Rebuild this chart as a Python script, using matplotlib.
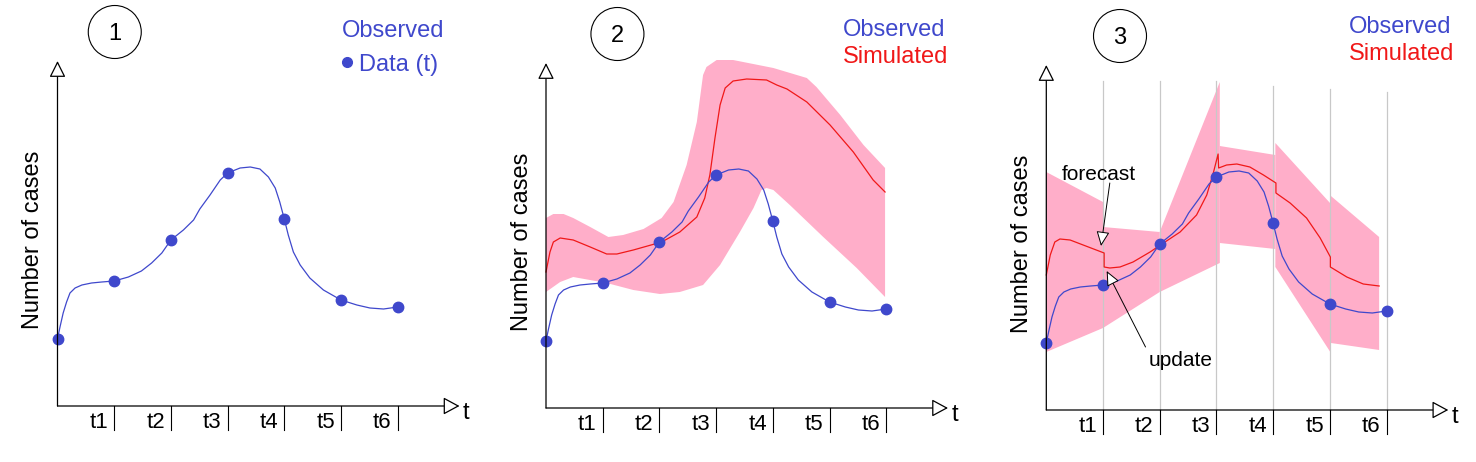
import numpy as np
import matplotlib
matplotlib.use('Agg')
import matplotlib.pyplot as plt
from matplotlib.patches import Ellipse

plt.rcParams['font.family'] = ['Liberation Sans', 'DejaVu Sans']

BLUE = '#3F48CC'
RED = '#F01818'
PINK = '#FFAEC9'
GREY = '#C8C8C8'

# observed data points at t0..t6 and the smooth observed curve
OBS_T = [0, 1, 2, 3, 4, 5, 6]
OBS_Y = [6.7, 12.5, 16.6, 23.3, 18.7, 10.6, 9.9]
CURVE_T = [0, 0.044, 0.10, 0.16, 0.22, 0.31, 0.43, 0.60, 0.78, 1.0, 1.25, 1.48, 1.66, 1.84,
           2.0, 2.22, 2.40, 2.51, 2.69, 2.87, 3.0, 3.22, 3.40, 3.57, 3.72, 3.84, 3.92, 4.0,
           4.07, 4.16, 4.28, 4.45, 4.69, 5.0, 5.28, 5.51, 5.75, 6.0]
CURVE_Y = [6.7, 7.9, 9.3, 10.4, 11.3, 11.8, 12.1, 12.3, 12.4, 12.5, 12.9, 13.5, 14.3, 15.3,
           16.6, 17.6, 18.6, 19.7, 21.1, 22.6, 23.3, 23.8, 23.9, 23.7, 22.9, 21.8, 20.4, 18.7,
           17.1, 15.4, 14.1, 12.8, 11.6, 10.6, 10.1, 9.8, 9.7, 9.9]

# panel 2: free simulation and its spread
SIM2_T = [0.0, 0.07, 0.13, 0.25, 0.48, 0.78, 1.07, 1.25, 1.54, 2.04, 2.36, 2.66, 2.80, 2.89,
          2.98, 3.07, 3.16, 3.30, 3.54, 3.89, 4.07, 4.25, 4.60, 5.01, 5.42, 5.77, 5.98]
SIM2_Y = [13.6, 15.6, 16.6, 17.0, 16.8, 16.1, 15.4, 15.4, 15.8, 16.6, 17.6, 19.1, 21.0, 23.3,
          27.0, 30.3, 32.0, 32.7, 32.9, 32.8, 32.3, 31.9, 30.6, 28.3, 25.6, 22.8, 21.6]
UP2_T = [0, 0.13, 0.31, 0.48, 0.78, 1.10, 1.36, 1.72, 2.04, 2.25, 2.48, 2.66, 2.77, 2.83,
         3.01, 3.30, 4.01, 4.60, 4.77, 5.19, 5.60, 5.98]
UP2_Y = [19.0, 19.4, 19.4, 19.0, 18.1, 17.1, 17.3, 17.9, 19.0, 20.6, 24.3, 28.6, 33.3, 34.1,
         34.8, 34.8, 34.0, 33.0, 32.1, 29.3, 26.3, 24.0]
LO2_T = [0, 0.25, 0.48, 1.07, 1.54, 2.01, 2.36, 2.77, 3.07, 3.42, 3.66, 3.80, 3.89, 4.01,
         4.30, 4.89, 5.48, 5.98]
LO2_Y = [11.6, 12.6, 13.1, 12.5, 11.8, 11.4, 11.6, 12.3, 14.3, 17.6, 20.0, 21.8, 22.0, 21.8,
         20.3, 17.1, 14.0, 11.1]

# panel 3: forecast / update cycles
SEG_T0 = [0, 1.0, 2.0, 3.06, 4.04, 5.02]
SEG_T1 = [1.0, 2.0, 3.06, 4.04, 5.02, 5.87]
SEG_UP0 = [23.8, 18.3, 17.8, 26.4, 26.7, 21.4]
SEG_UP1 = [20.8, 17.8, 32.8, 25.5, 20.6, 17.3]
SEG_LO0 = [5.8, 8.2, 11.8, 16.7, 14.3, 6.7]
SEG_LO1 = [8.2, 11.8, 14.7, 16.1, 5.7, 6.0]
SIM3_T = [0.0, 0.07, 0.15, 0.24, 0.42, 0.65, 1.02, 1.02, 1.12, 1.30, 1.53, 1.83, 2.04, 2.36,
          2.65, 2.83, 2.95, 3.03, 3.04, 3.18, 3.36, 3.59, 3.83, 4.05, 4.05, 4.30, 4.59, 4.83,
          5.01, 5.01, 5.30, 5.59, 5.87]
SIM3_Y = [13.5, 15.5, 16.8, 17.1, 17.0, 16.5, 15.7, 14.3, 14.2, 14.3, 14.8, 15.8, 16.6, 17.8,
          19.5, 21.5, 23.8, 25.6, 24.2, 24.5, 24.6, 24.3, 23.5, 22.7, 21.7, 20.7, 19.2, 17.2,
          15.3, 14.3, 13.3, 12.6, 12.4]
GRID_TOP = [32.9, 32.9, 32.9, 32.4, 32.1, 31.8]

TICK_LABELS = ['t1', 't2', 't3', 't4', 't5', 't6']

W, H = 1476, 462
PX_T = 56.7  # pixels per time step
PX_Y = 10.0  # pixels per case unit
ORIGINS = [(57.5, 406), (546, 408), (1046.3, 410)]
CIRCLE_X = [1.01, 1.26, 1.30]
LEGEND_X = [5.01, 5.23, 5.34]
LEGEND_Y = [(36.87, 33.53), (37.23, 34.53), (37.67, 35.0)]

FS = 17

fig = plt.figure(figsize=(W / 100, H / 100), dpi=100)


def make_axes(ox, oy):
    ax = fig.add_axes([(ox - 57) / W, 0, 480 / W, 1])
    ax.set_xlim(-57 / PX_T, 423 / PX_T)
    ax.set_ylim((oy - H) / PX_Y, oy / PX_Y)
    ax.axis('off')
    return ax


def frame(ax, num, cx):
    # axes with open arrow heads
    ax.annotate('', xy=(0, 34.5), xytext=(0, 0),
                arrowprops=dict(arrowstyle='-|>,head_length=1.0,head_width=0.5', fc='white',
                                ec='black', lw=0.9, mutation_scale=10, shrinkA=0, shrinkB=0),
                zorder=6)
    ax.annotate('', xy=(402 / PX_T, 0), xytext=(0, 0),
                arrowprops=dict(arrowstyle='-|>,head_length=1.0,head_width=0.54', fc='white',
                                ec='black', lw=0.9, mutation_scale=10, shrinkA=0, shrinkB=0),
                zorder=6)
    for k, lab in enumerate(TICK_LABELS, start=1):
        ax.plot([k, k], [0, -2.4], color='black', lw=0.8, zorder=6)
        ax.text(k - 0.27, -2.15, lab, fontsize=16, ha='center', va='baseline')
    ax.text(7.21, -1.3, 't', fontsize=FS, ha='center', va='baseline')
    ax.text(-0.325, 16.6, 'Number of cases', fontsize=FS, rotation=90,
            rotation_mode='anchor', ha='center', va='baseline')
    ax.add_patch(Ellipse((cx, 37.4), 2 * 26.5 / PX_T, 2 * 26.5 / PX_Y,
                         fc='none', ec='black', lw=0.8))
    ax.text(cx, 36.6, str(num), fontsize=FS, ha='center', va='baseline')


def observed(ax):
    ax.plot(CURVE_T, CURVE_Y, color=BLUE, lw=0.9, zorder=3)
    ax.plot(OBS_T, OBS_Y, 'o', color=BLUE, ms=7.5, zorder=4)


axes = [make_axes(ox, oy) for ox, oy in ORIGINS]

# panel 1
ax = axes[0]
frame(ax, 1, CIRCLE_X[0])
observed(ax)
ax.text(LEGEND_X[0], LEGEND_Y[0][0], 'Observed', color=BLUE, fontsize=FS, va='baseline')
ax.plot([5.10], [34.43], 'o', color=BLUE, ms=7)
ax.text(5.32, LEGEND_Y[0][1], 'Data (t)', color=BLUE, fontsize=FS, va='baseline')

# panel 2
ax = axes[1]
frame(ax, 2, CIRCLE_X[1])
ax.fill(np.r_[UP2_T, LO2_T[::-1]], np.r_[UP2_Y, LO2_Y[::-1]], color=PINK, lw=0, zorder=1)
ax.plot(SIM2_T, SIM2_Y, color=RED, lw=0.9, zorder=2)
observed(ax)
ax.text(LEGEND_X[1], LEGEND_Y[1][0], 'Observed', color=BLUE, fontsize=FS, va='baseline')
ax.text(LEGEND_X[1], LEGEND_Y[1][1], 'Simulated', color=RED, fontsize=FS, va='baseline')

# panel 3
ax = axes[2]
frame(ax, 3, CIRCLE_X[2])
for t0, t1, u0, u1, l0, l1 in zip(SEG_T0, SEG_T1, SEG_UP0, SEG_UP1, SEG_LO0, SEG_LO1):
    ax.fill([t0, t1, t1, t0], [u0, u1, l1, l0], color=PINK, lw=0, zorder=1)
for k, top in enumerate(GRID_TOP, start=1):
    ax.plot([k, k], [0, top], color=GREY, lw=0.9, zorder=1.5)
ax.plot(SIM3_T, SIM3_Y, color=RED, lw=0.9, zorder=2)
observed(ax)
ax.text(LEGEND_X[2], LEGEND_Y[2][0], 'Observed', color=BLUE, fontsize=FS, va='baseline')
ax.text(LEGEND_X[2], LEGEND_Y[2][1], 'Simulated', color=RED, fontsize=FS, va='baseline')

arrow = dict(arrowstyle='-|>,head_length=1.0,head_width=0.45', fc='white', ec='black',
             lw=0.7, mutation_scale=9, shrinkA=0, shrinkB=0)
ax.annotate('', xy=(0.965, 16.4), xytext=(1.12, 22.7), arrowprops=arrow, zorder=5)
ax.text(0.28, 23.0, 'forecast', fontsize=15, va='baseline')
ax.annotate('', xy=(1.065, 13.9), xytext=(1.75, 6.3), arrowprops=arrow, zorder=5)
ax.text(1.80, 4.35, 'update', fontsize=15, va='baseline')

fig.savefig('out.png', dpi=100, facecolor='white')
